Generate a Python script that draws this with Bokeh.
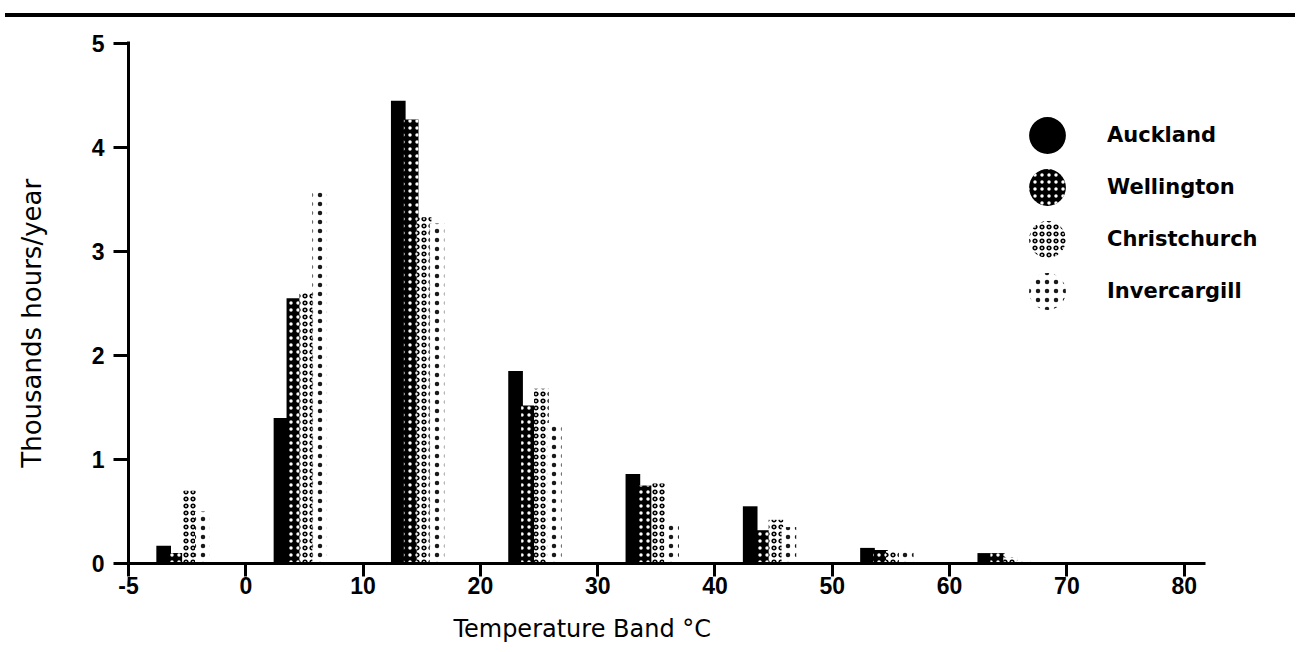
import numpy as np
from bokeh.plotting import figure
from bokeh.models import (ColumnDataSource, FixedTicker, Range1d, Legend,
                          LegendItem, Div, Label)
from bokeh.layouts import column
from bokeh.transform import dodge
from bokeh.embed import file_html
from bokeh.resources import INLINE

# ---- data (thousands of hours per year in each temperature band) ----
bands = ["-5 to 0", "0 to 10", "10 to 20", "20 to 30", "30 to 40",
         "40 to 50", "50 to 60", "60 to 70", "70 to 80"]
tick_labels = ["-5", "0", "10", "20", "30", "40", "50", "60", "70", "80"]
cities = ["Auckland", "Wellington", "Christchurch", "Invercargill"]
auckland = [0.17, 1.40, 4.45, 1.85, 0.86, 0.55, 0.15, 0.10, 0.0]
wellington = [0.10, 2.55, 4.27, 1.52, 0.75, 0.32, 0.13, 0.10, 0.0]
christchurch = [0.70, 2.60, 3.33, 1.68, 0.77, 0.42, 0.12, 0.06, 0.0]
invercargill = [0.50, 3.57, 3.27, 1.35, 0.40, 0.35, 0.14, 0.03, 0.0]
y_ticks = [0, 1, 2, 3, 4, 5]

source = ColumnDataSource(dict(
    band=list(range(len(bands))),
    Auckland=auckland, Wellington=wellington,
    Christchurch=christchurch, Invercargill=invercargill,
))

styles = {
    "Auckland": dict(fill_color="black"),
    "Wellington": dict(fill_color="black", hatch_pattern="dot",
                       hatch_color="white", hatch_scale=7, hatch_weight=1),
    "Christchurch": dict(fill_color="white", hatch_pattern="ring",
                         hatch_color="black", hatch_scale=7, hatch_weight=1.7),
    "Invercargill": dict(fill_color="white", hatch_pattern="dot",
                         hatch_color="black", hatch_scale=9, hatch_weight=0.1,
                         hatch_alpha=0.9),
}
offsets = {"Auckland": 0.30, "Wellington": 0.41,
           "Christchurch": 0.52, "Invercargill": 0.63}

# the frame fills the figure; both axes are pinned at 0 inside it
p = figure(width=1285, height=625,
           x_range=Range1d(-1.091, 9.693), y_range=Range1d(-0.779, 5.231),
           output_backend="svg", toolbar_location=None,
           min_border_left=0, min_border_right=20,
           min_border_top=0, min_border_bottom=0)
p.outline_line_color = None
p.grid.visible = False
p.background_fill_color = "white"

for c in cities:
    p.vbar(x=dodge("band", offsets[c]), top=c, width=0.125, bottom=0,
           source=source, line_color=None, **styles[c])

# legend proxies (ellipses drawn only inside the legend)
items = []
for c in cities:
    r = p.ellipse(x=[np.nan], y=[np.nan], width=46, height=46,
                  width_units="screen", height_units="screen",
                  line_color=None, **styles[c])
    items.append(LegendItem(label=c, renderers=[r]))

legend = Legend(items=items, location=(1024, 330),
                glyph_width=46, glyph_height=46, spacing=6,
                padding=0, margin=0, label_standoff=37,
                label_text_font="DejaVu Sans", label_text_font_style="bold",
                label_text_font_size="21px", label_text_color="black",
                background_fill_alpha=0, border_line_alpha=0)
p.add_layout(legend, "center")

# axes
xa = p.xaxis[0]
xa.fixed_location = 0
xa.ticker = FixedTicker(ticks=list(range(len(tick_labels))))
xa.major_label_overrides = {i: t for i, t in enumerate(tick_labels)}
xa.bounds = (0, 9.18)
ya = p.yaxis[0]
ya.fixed_location = 0
ya.ticker = FixedTicker(ticks=y_ticks)
ya.bounds = (0, 5.02)

for ax in (xa, ya):
    ax.axis_line_width = 3
    ax.axis_line_color = "black"
    ax.major_tick_line_width = 3
    ax.major_tick_line_color = "black"
    ax.major_tick_in = 0
    ax.minor_tick_line_color = None
    ax.major_label_text_font = "Liberation Sans"
    ax.major_label_text_font_style = "bold"
    ax.major_label_text_font_size = "23px"
    ax.major_label_text_color = "black"

xa.major_tick_out = 13
xa.major_label_standoff = 1
ya.major_tick_out = 15
ya.major_label_standoff = 9

# axis titles
x_title = Label(text="Temperature Band °C", x=2.77, y=-0.63,
                text_baseline="alphabetic", text_align="left",
                text_font="DejaVu Sans", text_font_size="24px",
                text_color="black")
y_title = Label(text="Thousands hours/year", x=-0.82, y=2.31,
                angle=np.pi / 2, text_baseline="alphabetic", text_align="center",
                text_font="DejaVu Sans", text_font_size="26px",
                text_color="black")
p.add_layout(x_title)
p.add_layout(y_title)

top_rule = Div(text='<div style="margin-top:4px;height:4px;background:#000;width:1290px"></div>',
               width=1290, height=9)

layout = column(top_rule, p, spacing=0)
open("out.html", "w").write(file_html(layout, INLINE))
